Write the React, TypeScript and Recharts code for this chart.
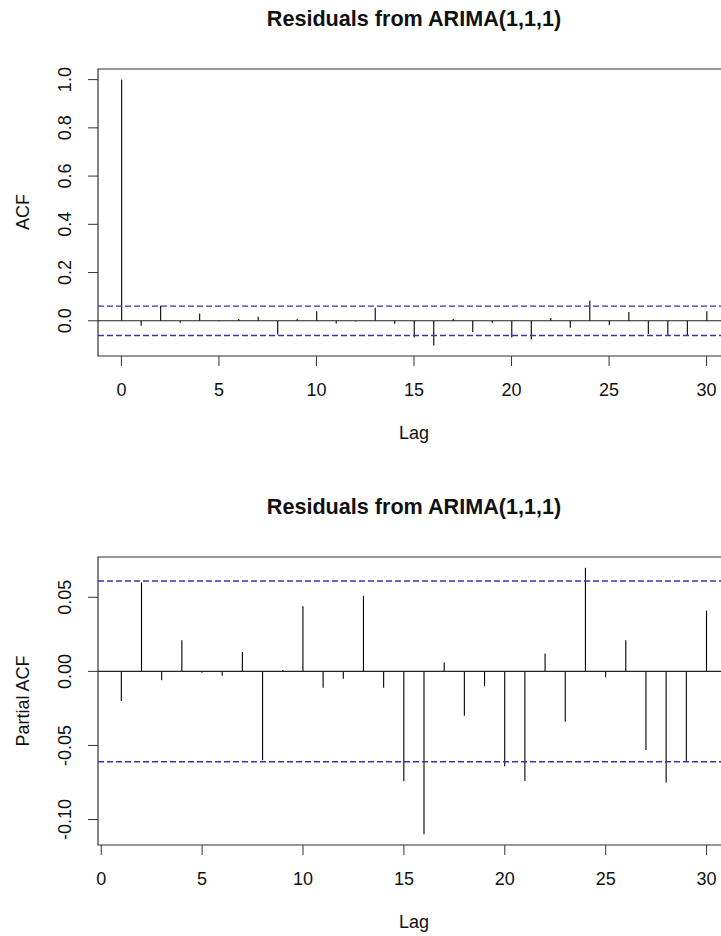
import { Bar, ComposedChart, ReferenceArea, ReferenceLine, XAxis, YAxis } from "recharts";

// ACF of residuals, lags 0..30
const acfLags = [0, 1, 2, 3, 4, 5, 6, 7, 8, 9, 10, 11, 12, 13, 14, 15, 16, 17, 18, 19, 20, 21, 22, 23, 24, 25, 26, 27, 28, 29, 30];
const acfValues = [
  1.0, -0.021, 0.062, -0.008, 0.03, -0.002, 0.007, 0.017, -0.057, 0.007, 0.04, -0.011, -0.003, 0.054, -0.012,
  -0.069, -0.102, 0.007, -0.046, -0.008, -0.069, -0.077, 0.012, -0.029, 0.083, -0.019, 0.036, -0.055, -0.062,
  -0.06, 0.04,
];

// PACF of residuals, lags 1..30
const pacfLags = [1, 2, 3, 4, 5, 6, 7, 8, 9, 10, 11, 12, 13, 14, 15, 16, 17, 18, 19, 20, 21, 22, 23, 24, 25, 26, 27, 28, 29, 30];
const pacfValues = [
  -0.02, 0.06, -0.006, 0.021, -0.001, -0.003, 0.013, -0.06, 0.001, 0.044, -0.011, -0.005, 0.051, -0.011, -0.074,
  -0.11, 0.006, -0.03, -0.01, -0.064, -0.074, 0.012, -0.034, 0.07, -0.004, 0.021, -0.053, -0.075, -0.061, 0.041,
];

const ciBound = 0.061;

const lagTicks = [0, 5, 10, 15, 20, 25, 30];
const acfTicks = [0, 0.2, 0.4, 0.6, 0.8, 1.0];
const pacfTicks = [-0.1, -0.05, 0, 0.05];

const acfXDomain: [number, number] = [-1.2, 31.2];
const acfYDomain: [number, number] = [-0.146, 1.044];
const pacfXDomain: [number, number] = [-0.16, 31.16];
const pacfYDomain: [number, number] = [-0.1172, 0.0772];

const FONT = '"Liberation Sans", Arial, Helvetica, sans-serif';
const CI_COLOR = "#3434b0";

const acfData = acfLags.map((lag, i) => ({ lag, value: acfValues[i] }));
const pacfData = pacfLags.map((lag, i) => ({ lag, value: pacfValues[i] }));

function Spike(props: any) {
  const { x, y, width, height } = props;
  const cx = x + width / 2;
  return <line x1={cx} x2={cx} y1={y} y2={y + height} stroke="#000" strokeWidth={1.1} />;
}

function XTick(props: any) {
  const { x, y, payload } = props;
  return (
    <text x={x} y={y} dy="0.71em" textAnchor="middle" fontSize={18} fontFamily={FONT} fill="#111">
      {payload.value}
    </text>
  );
}

function makeYTick(digits: number) {
  return function YTick(props: any) {
    const { y, payload } = props;
    const lx = 71;
    return (
      <text
        x={lx}
        y={y}
        transform={`rotate(-90, ${lx}, ${y})`}
        textAnchor="middle"
        fontSize={18}
        fontFamily={FONT}
        fill="#111"
      >
        {Number(payload.value).toFixed(digits)}
      </text>
    );
  };
}

function Panel({
  data,
  xDomain,
  yDomain,
  yTicks,
  digits,
  marginTop,
  marginBottom,
}: {
  data: { lag: number; value: number }[];
  xDomain: [number, number];
  yDomain: [number, number];
  yTicks: number[];
  digits: number;
  marginTop: number;
  marginBottom: number;
}) {
  return (
    <ComposedChart
      width={740}
      height={468}
      data={data}
      margin={{ top: marginTop, right: 10, left: 38, bottom: marginBottom }}
    >
      <XAxis
        dataKey="lag"
        type="number"
        domain={xDomain}
        ticks={lagTicks}
        allowDataOverflow
        height={60}
        axisLine={false}
        tickSize={10}
        tickMargin={17}
        tickLine={{ stroke: "#333" }}
        tick={<XTick />}
        interval={0}
      />
      <YAxis
        type="number"
        domain={yDomain}
        ticks={yTicks}
        allowDataOverflow
        width={60}
        axisLine={false}
        tickSize={10}
        tickLine={{ stroke: "#333" }}
        tick={makeYTick(digits)}
        interval={0}
      />
      <ReferenceArea
        x1={xDomain[0]}
        x2={xDomain[1]}
        y1={yDomain[0]}
        y2={yDomain[1]}
        fill="none"
        stroke="#333"
        strokeWidth={1.2}
      />
      <ReferenceLine y={0} stroke="#222" strokeWidth={1.1} />
      <ReferenceLine y={ciBound} stroke={CI_COLOR} strokeWidth={1.3} strokeDasharray="6 3" />
      <ReferenceLine y={-ciBound} stroke={CI_COLOR} strokeWidth={1.3} strokeDasharray="6 3" />
      <Bar dataKey="value" barSize={2} shape={<Spike />} isAnimationActive={false} />
    </ComposedChart>
  );
}

export default function App() {
  const textStyle = { fontFamily: FONT, fill: "#111" };
  return (
    <div style={{ position: "absolute", left: 0, top: 0, width: 721, height: 936, overflow: "hidden", background: "#fff" }}>
      <div style={{ position: "absolute", left: 0, top: 0 }}>
        <Panel
          data={acfData}
          xDomain={acfXDomain}
          yDomain={acfYDomain}
          yTicks={acfTicks}
          digits={1}
          marginTop={69}
          marginBottom={52}
        />
      </div>
      <div style={{ position: "absolute", left: 0, top: 468 }}>
        <Panel
          data={pacfData}
          xDomain={pacfXDomain}
          yDomain={pacfYDomain}
          yTicks={pacfTicks}
          digits={2}
          marginTop={89}
          marginBottom={31}
        />
      </div>
      <svg width={721} height={936} style={{ position: "absolute", left: 0, top: 0, pointerEvents: "none" }}>
        <text x={414} y={26} textAnchor="middle" fontSize={21.6} fontWeight="bold" style={textStyle}>
          Residuals from ARIMA(1,1,1)
        </text>
        <text x={414} y={514} textAnchor="middle" fontSize={21.6} fontWeight="bold" style={textStyle}>
          Residuals from ARIMA(1,1,1)
        </text>
        <text x={29} y={212} transform="rotate(-90, 29, 212)" textAnchor="middle" fontSize={18} style={textStyle}>
          ACF
        </text>
        <text x={29} y={701} transform="rotate(-90, 29, 701)" textAnchor="middle" fontSize={18} style={textStyle}>
          Partial ACF
        </text>
        <text x={414} y={439} textAnchor="middle" fontSize={18} style={textStyle}>
          Lag
        </text>
        <text x={414} y={928} textAnchor="middle" fontSize={18} style={textStyle}>
          Lag
        </text>
      </svg>
    </div>
  );
}
